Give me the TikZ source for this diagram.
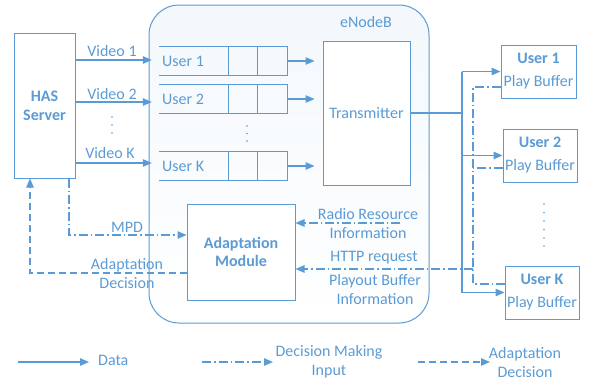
\documentclass[tikz,border=0pt]{standalone}
\usepackage{fontspec}
\setmainfont{Carlito}
\usetikzlibrary{arrows.meta}
\definecolor{cb}{HTML}{5B9BD5}
\definecolor{enbfill}{HTML}{F3F6FB}
\begin{document}
\begin{tikzpicture}[x=1pt,y=-1pt,
  every node/.style={text=cb, font=\fontsize{16}{19}\selectfont, inner sep=0pt, align=center},
  box/.style={draw=cb, line width=1pt, fill=white},
  qline/.style={draw=cb, line width=1pt},
  ln/.style={draw=cb, line width=1.2pt},
  tip/.style={-{Triangle[length=9pt,width=7.5pt]}},
  dataln/.style={ln, tip},
  dmline/.style={ln, dash pattern=on 9pt off 3pt on 1.5pt off 3pt},
  adline/.style={ln, dash pattern=on 7pt off 4pt},
  dotc/.style={fill=cb, draw=none, circle, minimum size=1.8pt, inner sep=0pt}
]
\useasboundingbox (0,0) rectangle (591,383);

% eNodeB container
\node[draw=cb, line width=1pt, top color=enbfill!70!cb!20, bottom color=white, rounded corners=30pt,
      minimum width=280pt, minimum height=318pt] (enb) at (289,164) {};
\node (enbl) at (366,22) {eNodeB};

% HAS server
\node[box, minimum width=61pt, minimum height=145pt,
      font=\bfseries\fontsize{16}{19}\selectfont] (has) at (44.5,105.5) {HAS\\Server};

% queues
\foreach \n/\y in {1/61,2/99,K/166} {
  \node[minimum width=128pt, minimum height=28pt] (q\n) at (223,\y) {};
  \node[anchor=west] (ql\n) at (162,\y) {User \n};
  \draw[qline] (q\n.north west) -- (q\n.north east) -- (q\n.south east) -- (q\n.south west);
  \draw[qline] ([xshift=-30pt]q\n.north east) -- ([xshift=-30pt]q\n.south east);
  \draw[qline] ([xshift=-59pt]q\n.north east) -- ([xshift=-59pt]q\n.south east);
}

% transmitter
\node[box, minimum width=87pt, minimum height=144pt] (tx) at (366.5,113) {Transmitter};

% adaptation module
\node[box, minimum width=108pt, minimum height=96pt,
      font=\bfseries\fontsize{16}{18}\selectfont] (am) at (241,252) {Adaptation\\Module};

% users
\node[box, minimum width=75pt, minimum height=53pt, font=\fontsize{16}{23}\selectfont] (u1) at (538.5,71.5) {\textbf{User 1}\\Play Buffer};
\node[box, minimum width=74pt, minimum height=53pt, font=\fontsize{16}{23}\selectfont] (u2) at (540,155.5) {\textbf{User 2}\\Play Buffer};
\node[box, minimum width=74pt, minimum height=53pt, font=\fontsize{16}{23}\selectfont] (uK) at (542,292.5) {\textbf{User K}\\Play Buffer};

% video arrows
\coordinate (vy1) at (0,60);
\coordinate (vy2) at (0,102);
\coordinate (vyK) at (0,163);
\foreach \n in {1,2,K} {
  \draw[dataln, shorten >=7pt] (has.east |- vy\n) -- (q\n.west |- vy\n);
  \draw[dataln, shorten >=8pt] (q\n.east) -- (tx.west |- q\n.east);
}
\node (v1) at (112,51) {Video 1};
\node (v2) at (112,94) {Video 2};
\node (vK) at (110,153) {Video K};

% vertical dots
\foreach \y in {117,125,133} \node[dotc] at (112,\y) {};
\foreach \y in {126,133.5,141} \node[dotc] at (247,\y) {};
\foreach \y in {204,212.5,221,229.5,238,246} \node[dotc] at (544,\y) {};

% transmitter to users
\coordinate (bus) at (462,113);
\draw[ln] (tx.east) -- (bus);
\draw[ln] (bus |- u1.west) -- (bus |- uK.west);
\draw[dataln] (bus |- u1.west) -- (u1.west);
\draw[dataln] (bus |- u2.west) -- (u2.west);
\draw[dataln] (bus |- uK.west) -- (uK.west);

% decision making inputs from users
\coordinate (d1) at (473,87);
\coordinate (d2) at (473,168);
\coordinate (dK) at (473,284);
\coordinate (dh) at (473,269);
\draw[dmline] (u1.west |- d1) -- (d1) -- (dK) -- (uK.west |- dK);
\draw[dmline] (u2.west |- d2) -- (d2);
\draw[dmline, tip] (dh) -- (am.east |- dh);
\node (http) at (374,258) {HTTP request};
\node (pbi) at (375,289) {Playout Buffer\\Information};

% radio resource
\coordinate (rr) at (400,223);
\draw[dmline, tip] (rr) -- (am.east |- rr);
\node (rri) at (368,223.5) {Radio Resource\\Information};

% MPD
\coordinate (m1) at (69,235);
\draw[dmline, tip] (has.south -| m1) -- (m1) -- (am.west |- m1);
\node (mpd) at (127,227) {MPD};

% adaptation decision
\coordinate (a1) at (30,273);
\draw[adline, tip] (am.west |- a1) -- (a1) -- (has.south -| a1);
\node (adl) at (127,273.5) {Adaptation\\Decision};

% legend
\coordinate (la1) at (18,362);  \coordinate (lb1) at (89,362);
\coordinate (la2) at (202,362); \coordinate (lb2) at (273,362);
\coordinate (la3) at (418,362); \coordinate (lb3) at (490,362);
\draw[dataln] (la1) -- (lb1);
\draw[dmline, tip] (la2) -- (lb2);
\draw[adline, tip] (la3) -- (lb3);
\node[anchor=west] (lg1) at (98,360) {Data};
\node (lg2) at (329,362) {Decision Making\\Input};
\node (lg3) at (525,362) {Adaptation\\Decision};
\end{tikzpicture}
\end{document}
